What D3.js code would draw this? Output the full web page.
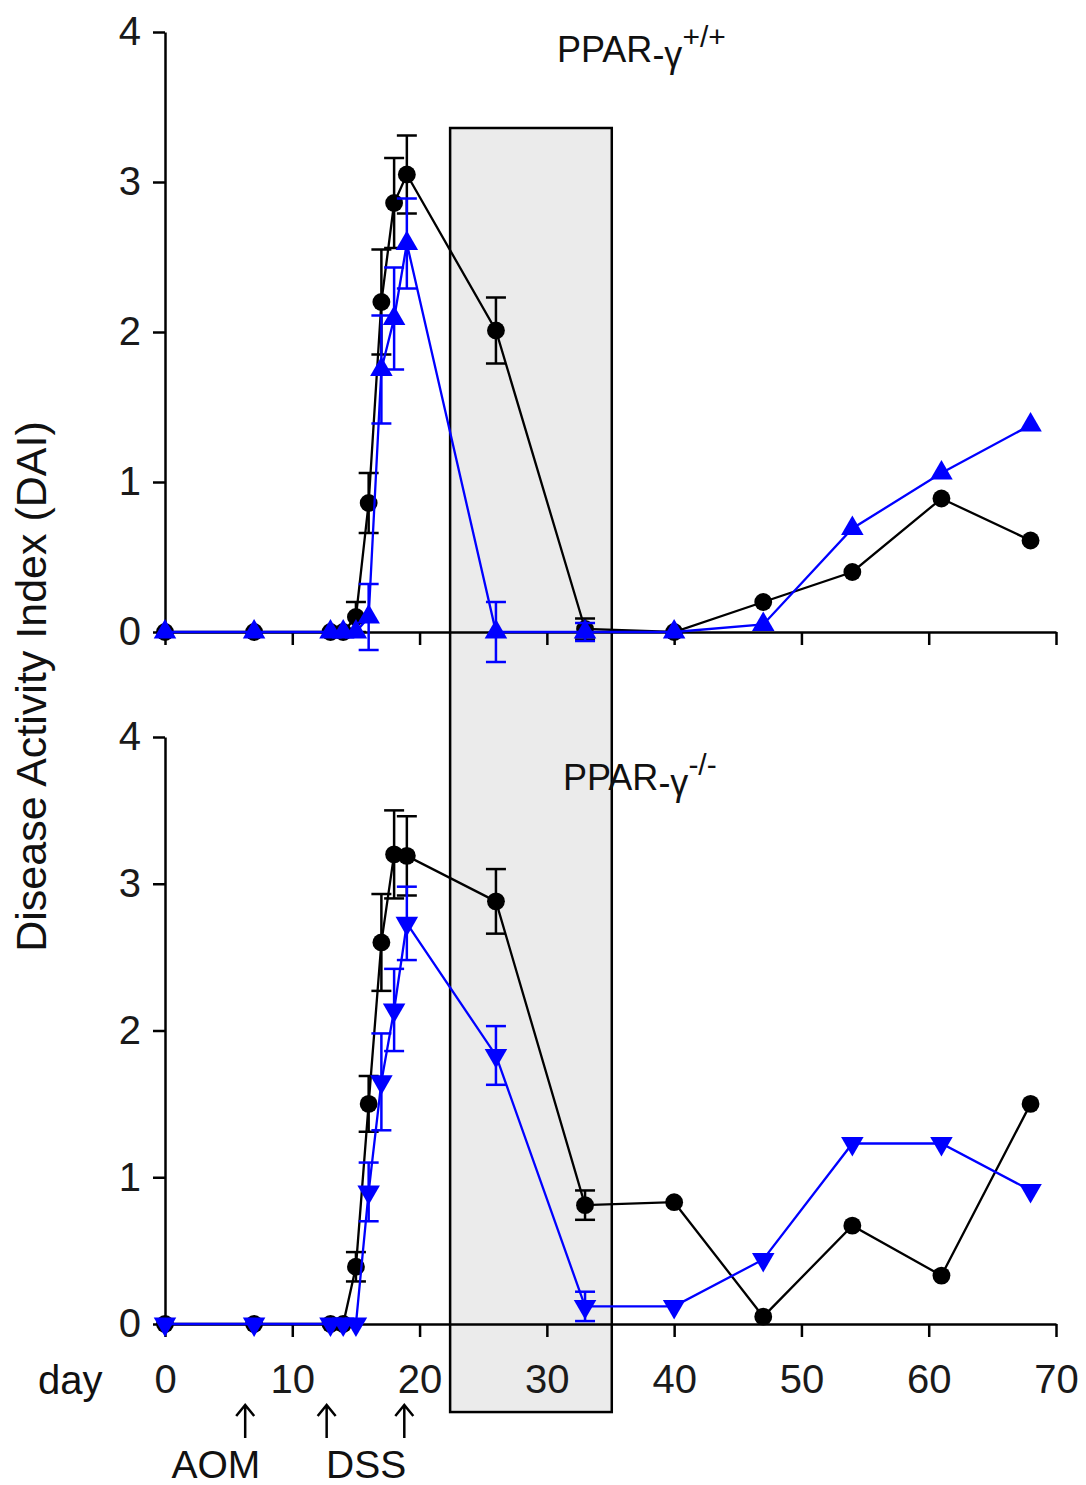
<!DOCTYPE html>
<html>
<head>
<meta charset="utf-8">
<script src="https://cdn.jsdelivr.net/npm/d3@7"></script>
<style>
  body { margin: 0; background: #fff; }
  text { font-family: Arial, "Liberation Sans", sans-serif; fill: #111; }
  .axis path, .axis line { stroke: #000; stroke-width: 2.5; }
  .axis text { font-size: 40px; fill: #1a1a1a; }
</style>
</head>
<body>
<svg id="chart" width="1086" height="1485"></svg>
<script>
let days = [0, 7, 13, 14, 15, 16, 17, 18, 19, 26, 33, 40, 47, 54, 61, 68]

// PPAR-γ +/+ panel
let wtBlack    = [0, 0, 0, 0, 0.1, 0.86, 2.2, 2.86, 3.05, 2.01, 0.02, 0, 0.2, 0.4, 0.89, 0.61]
let wtBlackErr = [0, 0, 0, 0, 0.1, 0.2, 0.35, 0.3, 0.26, 0.22, 0.07, 0, 0, 0, 0, 0]
let wtBlue     = [0, 0, 0, 0, 0, 0.1, 1.75, 2.09, 2.59, 0, 0, 0, 0.05, 0.69, 1.06, 1.38]
let wtBlueErr  = [0, 0, 0, 0, 0, 0.22, 0.36, 0.34, 0.3, 0.2, 0.06, 0, 0, 0, 0, 0]

// PPAR-γ -/- panel
let koBlack    = [0, 0, 0, 0, 0.39, 1.5, 2.6, 3.2, 3.19, 2.88, 0.81, 0.83, 0.05, 0.67, 0.33, 1.5]
let koBlackErr = [0, 0, 0, 0, 0.1, 0.19, 0.33, 0.3, 0.27, 0.22, 0.1, 0, 0, 0, 0, 0]
let koBlue     = [0, 0, 0, 0, 0, 0.9, 1.65, 2.14, 2.73, 1.83, 0.12, 0.12, 0.44, 1.23, 1.23, 0.91]
let koBlueErr  = [0, 0, 0, 0, 0, 0.2, 0.33, 0.28, 0.25, 0.2, 0.1, 0, 0, 0, 0, 0]

let xTicks = [0, 10, 20, 30, 40, 50, 60, 70]
let yTicks = [0, 1, 2, 3, 4]

// shaded window (days) and its vertical reach (DAI of top / bottom panel)
let boxDays = [22.4, 35.1]
let boxTopDai = 3.36
let boxBottomDai = -0.6

// treatment arrows
let arrowDays = [6.3, 12.7, 18.8]
let treatments = [{label: 'AOM', day: 4.0}, {label: 'DSS', day: 15.8}]

let svg = d3.select('#chart')

let x = d3.scaleLinear().domain([0, 70]).range([165, 1056])
let yTop = d3.scaleLinear().domain([0, 4]).range([632, 32])
let yBot = d3.scaleLinear().domain([0, 4]).range([1324, 737])

// grey box behind everything
svg.append('rect')
  .attr('x', x(boxDays[0]))
  .attr('y', yTop(boxTopDai))
  .attr('width', x(boxDays[1]) - x(boxDays[0]))
  .attr('height', yBot(boxBottomDai) - yTop(boxTopDai))
  .attr('fill', '#ebebeb')
  .attr('stroke', '#000')
  .attr('stroke-width', 2.5)

function panel(y, black, blackErr, blue, blueErr, showLabels, down) {
  svg.append('g')
    .classed('axis', true)
    .attr('transform', `translate(${x(0)},0)`)
    .call(d3.axisLeft(y).tickValues(yTicks).tickFormat(d3.format('d'))
      .tickSize(12).tickSizeOuter(0).tickPadding(12))

  let xa = svg.append('g')
    .classed('axis', true)
    .attr('transform', `translate(0,${y(0)})`)
    .call(d3.axisBottom(x).tickValues(xTicks).tickSize(13).tickSizeOuter(0).tickPadding(28))
  if (!showLabels) xa.selectAll('text').remove()

  let series = [
    {vals: black, err: blackErr, color: '#000', shape: 'circle'},
    {vals: blue, err: blueErr, color: '#0000ff', shape: 'tri'}
  ]

  series.forEach(s => {
    let pts = days.map((d, i) => ({d: d, v: s.vals[i], e: s.err[i]}))
    svg.append('path')
      .datum(pts)
      .attr('fill', 'none')
      .attr('stroke', s.color)
      .attr('stroke-width', 2.3)
      .attr('d', d3.line().x(p => x(p.d)).y(p => y(p.v)))

    let eb = svg.append('g')
      .attr('stroke', s.color)
      .attr('stroke-width', 2.5)
      .selectAll('g')
      .data(pts.filter(p => p.e > 0))
      .enter()
      .append('g')
    eb.append('line')
      .attr('x1', p => x(p.d)).attr('x2', p => x(p.d))
      .attr('y1', p => y(p.v - p.e)).attr('y2', p => y(p.v + p.e))
    eb.append('line')
      .attr('x1', p => x(p.d) - 10).attr('x2', p => x(p.d) + 10)
      .attr('y1', p => y(p.v + p.e)).attr('y2', p => y(p.v + p.e))
    eb.append('line')
      .attr('x1', p => x(p.d) - 10).attr('x2', p => x(p.d) + 10)
      .attr('y1', p => y(p.v - p.e)).attr('y2', p => y(p.v - p.e))

    let sym = s.shape === 'circle'
      ? d3.symbol().type(d3.symbolCircle).size(250)
      : d3.symbol().type(d3.symbolTriangle).size(220)
    svg.append('g')
      .selectAll('path')
      .data(pts)
      .enter()
      .append('path')
      .attr('d', sym)
      .attr('fill', s.color)
      .attr('transform', p => `translate(${x(p.d)},${y(p.v)})` + (s.shape === 'tri' && down ? ' rotate(180)' : ''))
  })
}

panel(yTop, wtBlack, wtBlackErr, wtBlue, wtBlueErr, false, false)
panel(yBot, koBlack, koBlackErr, koBlue, koBlueErr, true, true)

// panel titles
function title(tx, ty, sup) {
  let t = svg.append('text')
    .attr('x', tx)
    .attr('y', ty)
    .style('font-size', '36px')
  t.append('tspan').text('PPAR')
  t.append('tspan').text('-γ').attr('dy', 5)
  t.append('tspan').text(sup).attr('dy', -20).style('font-size', '30px')
}
title(557, 62, '+/+')
title(563, 790, '-/-')

// y label
svg.append('text')
  .attr('transform', `translate(46,${(yTop(0) + yBot(4)) / 2 + 2}) rotate(-90)`)
  .attr('text-anchor', 'middle')
  .style('font-size', '43px')
  .text('Disease Activity Index (DAI)')

// "day" caption
svg.append('text')
  .attr('x', 38)
  .attr('y', 1394)
  .style('font-size', '40px')
  .text('day')

// arrows
let ag = svg.append('g').attr('stroke', '#000').attr('stroke-width', 2.5).attr('fill', 'none')
ag.selectAll('path')
  .data(arrowDays)
  .enter()
  .append('path')
  .attr('d', d => `M${x(d)},1438 V1405 M${x(d) - 9},1416 L${x(d)},1405 L${x(d) + 9},1416`)

svg.selectAll('.treat')
  .data(treatments)
  .enter()
  .append('text')
  .classed('treat', true)
  .attr('x', d => x(d.day))
  .attr('y', 1478)
  .attr('text-anchor', 'middle')
  .style('font-size', '39px')
  .text(d => d.label)
</script>
</body>
</html>
